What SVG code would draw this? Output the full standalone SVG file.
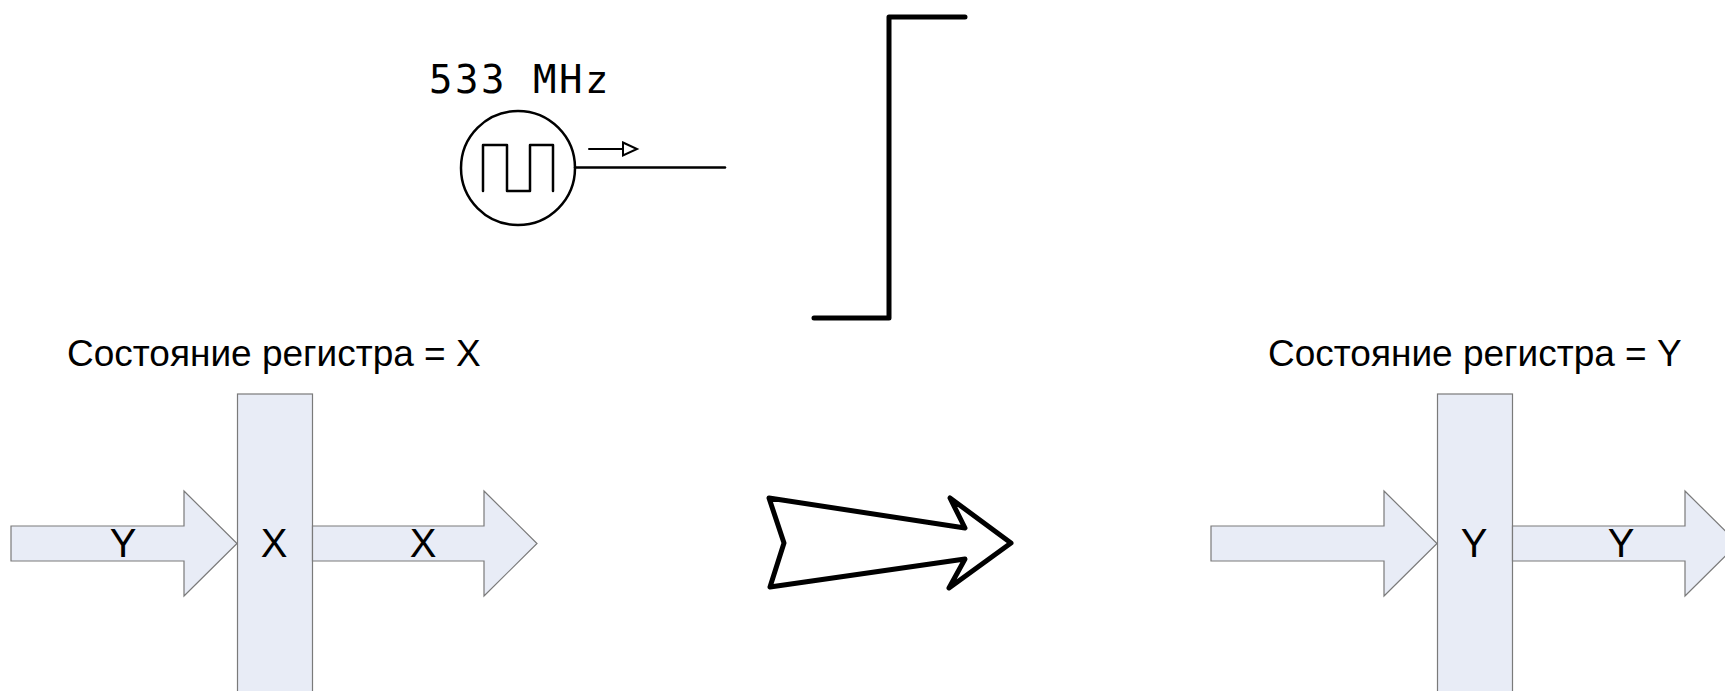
<svg xmlns="http://www.w3.org/2000/svg" width="1725" height="691" viewBox="0 0 1725 691">
<style>
.bar{fill:#e8ecf6;stroke:#7a7a7a;stroke-width:1.2}
.lbl{font-family:"Liberation Sans",Arial,sans-serif;font-size:40px;fill:#000;text-anchor:middle}
.ttl{font-family:"Liberation Sans",Arial,sans-serif;font-size:37px;fill:#000}
.ink{fill:none;stroke:#000;stroke-linecap:round;stroke-linejoin:round}
</style>
<rect width="1725" height="691" fill="#fff"/>
<g id="clock">
<text x="429" y="93" font-family="'DejaVu Sans Mono',monospace" font-size="39" letter-spacing="2.5">533 MHz</text>
<circle cx="518" cy="168" r="57" class="ink" stroke-width="2.5"/>
<path class="ink" stroke-width="2.5" stroke-linecap="butt" d="M483 191V145H507V191H530V145H553V191"/>
<path class="ink" stroke-width="2" d="M589 149H623"/>
<path d="M623 142.5L637 149L623 155.5Z" fill="#fff" stroke="#000" stroke-width="2" stroke-linejoin="miter"/>
</g>
<g id="edge">
<path class="ink" stroke-width="5" d="M814 318H889V17H965"/>
</g>
<g id="connectors">
<path class="ink" stroke-width="2.5" d="M575 167.5H725"/>
</g>
<g id="left-state">
<text class="ttl" x="67" y="366">Состояние регистра = X</text>
<path class="bar" d="M11 526H184V491L237 543.5L184 596V561H11Z"/>
<rect class="bar" x="237.5" y="394" width="75" height="310"/>
<path class="bar" d="M312.5 526H484V491L537 543.5L484 596V561H312.5Z"/>
<text class="lbl" x="123" y="557">Y</text>
<text class="lbl" x="274" y="557">X</text>
<text class="lbl" x="423" y="557">X</text>
</g>
<g id="transition">
<path class="ink" stroke-width="5" d="M769 498L784 543L770 587L965 559L949 588L1011 543L950 498L965 528Z"/>
</g>
<g id="right-state">
<text class="ttl" x="1268" y="366">Состояние регистра = Y</text>
<path class="bar" d="M1211 526H1384V491L1437 543.5L1384 596V561H1211Z"/>
<rect class="bar" x="1437.5" y="394" width="75" height="310"/>
<path class="bar" d="M1512.5 526H1685V491L1738 543.5L1685 596V561H1512.5Z"/>
<text class="lbl" x="1474" y="557">Y</text>
<text class="lbl" x="1621" y="557">Y</text>
</g>
</svg>
